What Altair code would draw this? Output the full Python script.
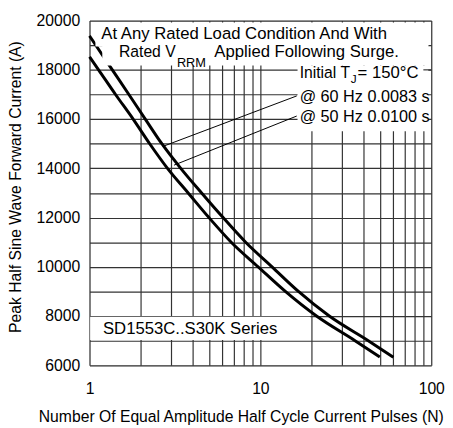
import altair as alt
import pandas as pd

# ---- data ----
# 60 Hz (upper) curve: N pulses vs peak current (A)
n_60hz = [1, 1.36, 1.7, 2.12, 2.65, 3.42, 4.53, 6.05, 8.2, 11.7, 16.7, 25.3, 42.8, 60]
i_60hz = [19380, 18000, 17000, 16000, 15000, 14000, 13000, 12000, 11000, 10000, 9000, 8000, 7000, 6330]
# 50 Hz (lower) curve
n_50hz = [1, 1.13, 1.42, 1.8, 2.25, 2.86, 3.78, 5.0, 6.75, 9.7, 14.0, 21.3, 35.8, 50]
i_50hz = [18530, 18000, 17000, 16000, 15000, 14000, 13000, 12000, 11000, 10000, 9000, 8000, 7000, 6340]

x_grid = [1, 2, 3, 4, 5, 6, 7, 8, 9, 10, 20, 30, 40, 50, 60, 70, 80, 90, 100]
x_labels = [1, 10, 100]
y_grid = list(range(6000, 20001, 1000))
y_labels = list(range(6000, 20001, 2000))

# annotation texts
ann_text = ["At Any Rated Load Condition And With", "Rated V", "RRM",
            "Applied Following Surge.", "Initial T", "J", "= 150°C",
            "@ 60 Hz 0.0083 s", "@ 50 Hz 0.0100 s", "SD1553C..S30K Series"]
ann_x = [1.172, 1.487, 3.247, 5.375, 16.98, 33.8, 37.07, 16.98, 16.98, 1.199]
ann_y = [19450, 18715, 18266, 18715, 17867, 17631, 17867, 16882, 16084, 7468]
ann_size = [17, 16, 13, 17, 16, 12, 17, 16.5, 16.5, 17]

# leader lines from labels to curve
lead_x = [2.681, 3.121]
lead_x2 = [16.32, 16.32]
lead_y = [14887, 14129]
lead_y2 = [16941, 16124]

# white label backgrounds (data coordinates)
box_x = [1.083, 1.188, 16.5, 1.009]
box_x2 = [96.1, 96.1, 96.1, 19.6]
box_y = [18945, 18178, 15505, 7025]
box_y2 = [19920, 19015, 18178, 7975]

FONT = "Liberation Sans"

curves = pd.DataFrame({
    "x": n_60hz + n_50hz,
    "y": i_60hz + i_50hz,
    "s": ["60 Hz"] * len(n_60hz) + ["50 Hz"] * len(n_50hz),
})
ann = pd.DataFrame({"t": ann_text, "x": ann_x, "y": ann_y, "fs": ann_size})
leads = pd.DataFrame({"x": lead_x, "x2": lead_x2, "y": lead_y, "y2": lead_y2})
boxes = pd.DataFrame({"x": box_x, "x2": box_x2, "y": box_y, "y2": box_y2})
seg = pd.DataFrame({"x": [89.9], "x2": [100], "y": [18000]})

xscale = alt.Scale(type="log", domain=[1, 100], nice=False)
yscale = alt.Scale(domain=[6000, 20000], nice=False, zero=False)

lab_x = " || ".join(f"datum.value == {v}" for v in x_labels)
lab_y = " || ".join(f"datum.value == {v}" for v in y_labels)

xaxis = alt.Axis(
    values=x_grid, labelExpr=f"({lab_x}) ? '' + datum.value : ''",
    grid=True, gridColor="#333", gridWidth=1.2, gridOpacity=1,
    ticks=False, domain=False, labelFont=FONT, labelFontSize=16,
    labelColor="black", labelPadding=16, labelOverlap=False, labelFlush=False,
    title="Number Of Equal Amplitude Half Cycle Current Pulses (N)",
    titleFont=FONT, titleFontSize=16, titleFontWeight="normal", titleColor="black",
    titleX=154, titleY=52, titleBaseline="middle", titleAlign="center",
)
yaxis = alt.Axis(
    values=y_grid, labelExpr=f"({lab_y}) ? '' + datum.value : ''",
    grid=True, gridColor="#333", gridWidth=1.2, gridOpacity=1,
    ticks=False, domain=False, labelFont=FONT, labelFontSize=16,
    labelColor="black", labelPadding=10, labelOverlap=False,
    title="Peak Half Sine Wave Forward Current (A)",
    titleFont=FONT, titleFontSize=16, titleFontWeight="normal", titleColor="black",
    titleX=-75.5, titleY=169, titleBaseline="middle", titleAlign="center", titleAngle=-90,
)


def X(f="x"):
    return alt.X(f"{f}:Q", scale=xscale, axis=xaxis)


def Y(f="y"):
    return alt.Y(f"{f}:Q", scale=yscale, axis=yaxis)


sd_box = alt.Chart(boxes.iloc[[3]]).mark_rect(fill="white", stroke=None).encode(
    x=X(), x2="x2", y=Y(), y2="y2")

lines = alt.Chart(curves).mark_line(color="black", strokeWidth=3, interpolate="monotone").encode(
    x=X(), y=Y(), detail="s:N")

top_boxes = alt.Chart(boxes.iloc[[0, 1, 2]]).mark_rect(fill="white", stroke=None).encode(
    x=X(), x2="x2", y=Y(), y2="y2")

seg_rule = alt.Chart(seg).mark_rule(color="#333", strokeWidth=1.2).encode(
    x=X(), x2="x2", y=Y())

lead_rules = alt.Chart(leads).mark_rule(color="black", strokeWidth=1).encode(
    x=X(), x2="x2", y=Y(), y2="y2")

texts = alt.Chart(ann).mark_text(
    align="left", baseline="middle", font=FONT, color="black").encode(
    x=X(), y=Y(), text="t:N", size=alt.Size("fs:Q", scale=None, legend=None))

chart = alt.layer(sd_box, lines, top_boxes, seg_rule, lead_rules, texts).properties(
    width=348, height=351,
    autosize=alt.AutoSizeParams(type="none"),
    padding={"left": 83, "top": 9, "right": 14, "bottom": 60},
).configure_view(stroke="black", strokeWidth=1.5).configure(background="white")

chart.save("out.html", embed_options={"renderer": "svg", "actions": False})
